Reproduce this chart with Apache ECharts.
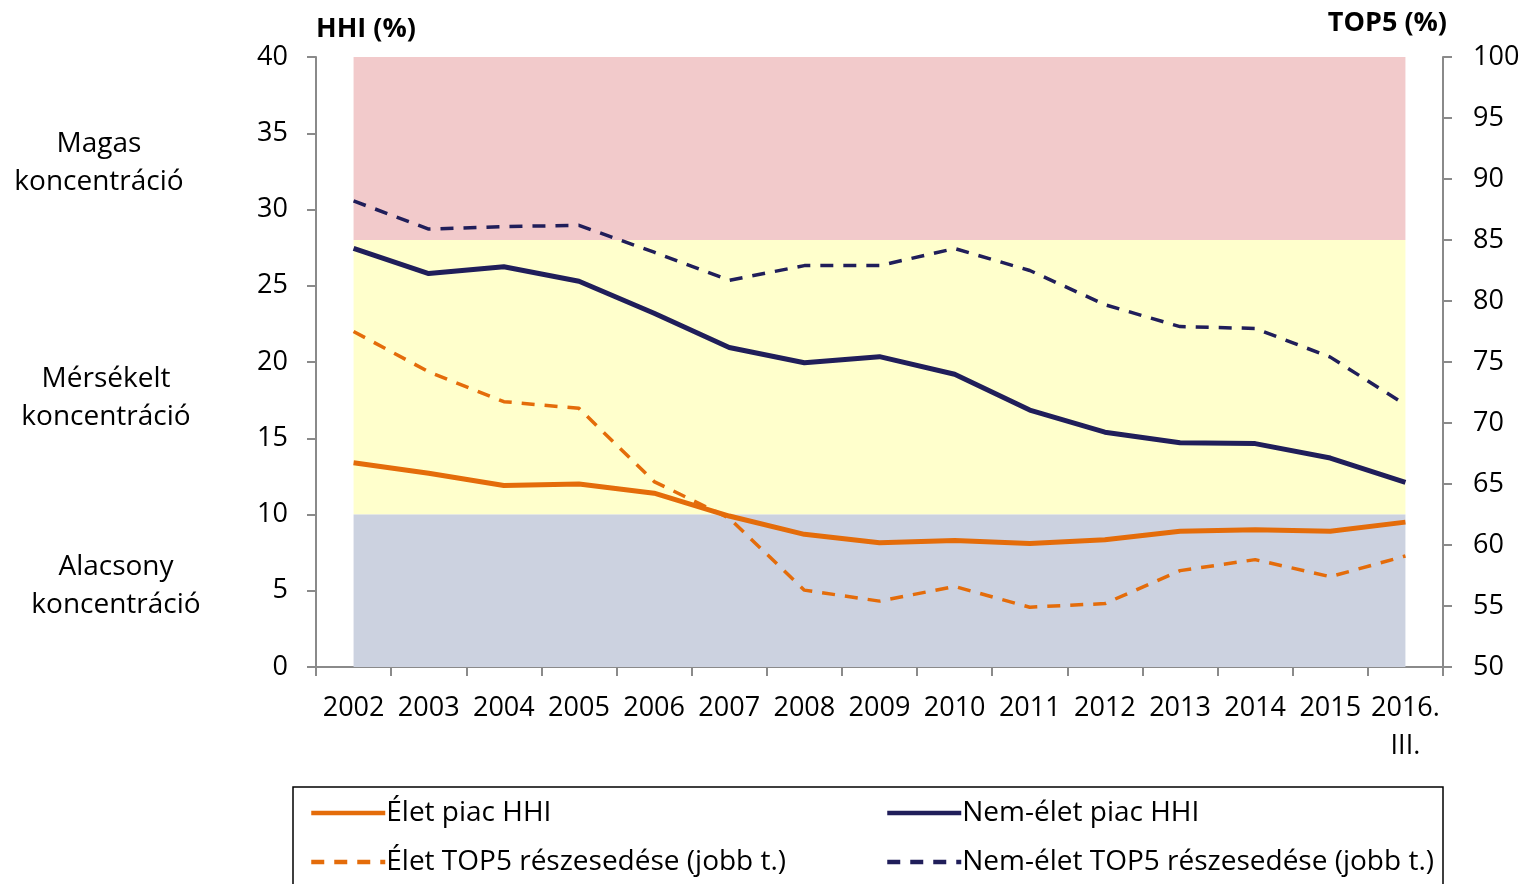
<!DOCTYPE html>
<html>
<head>
<meta charset="utf-8">
<script src="https://cdn.jsdelivr.net/npm/echarts@6/dist/echarts.min.js"></script>
<style>
  html, body { margin: 0; padding: 0; background: #fff; }
  #echart { width: 1525px; height: 884px; }
</style>
</head>
<body>
<div id="echart"></div>
<script>
// --- data ----------------------------------------------------------------
var years = ['2002', '2003', '2004', '2005', '2006', '2007', '2008', '2009',
             '2010', '2011', '2012', '2013', '2014', '2015', '2016.\nIII.'];

var eletHHI = [13.4, 12.7, 11.9, 12.0, 11.4, 9.9, 8.7, 8.15, 8.3, 8.1, 8.35, 8.9, 9.0, 8.9, 9.5];
var nemEletHHI = [27.45, 25.8, 26.25, 25.3, 23.2, 20.95, 19.95, 20.35, 19.2, 16.85, 15.4, 14.7, 14.65, 13.7, 12.1];
var eletTop5 = [77.5, 74.2, 71.75, 71.2, 65.2, 62.2, 56.3, 55.4, 56.6, 54.9, 55.2, 57.9, 58.8, 57.4, 59.1];
var nemEletTop5 = [88.2, 85.9, 86.1, 86.2, 84.0, 81.7, 82.9, 82.9, 84.3, 82.5, 79.7, 77.9, 77.75, 75.4, 71.5];

// concentration bands on the HHI axis
var bandHigh = [28, 40];
var bandMid = [10, 28];
var bandLow = [0, 10];

var ORANGE = '#E46C0A';
var NAVY = '#201E5A';
var FONT = 'Open Sans';

var eChart = echarts.init(document.getElementById('echart'));

var legendBase = {
    top: 794,
    orient: 'vertical',
    itemWidth: 74, itemHeight: 14, itemGap: 21,
    itemStyle: { opacity: 0 },
    lineStyle: { width: 4.5 },
    textStyle: { fontSize: 28, fontFamily: FONT, color: '#000', padding: [0, 0, 0, -4] }
};

var eChartOption = {
    animation: false,
    textStyle: { fontFamily: FONT, color: '#000' },
    grid: { left: 316, right: 82, top: 57, bottom: 217 },
    xAxis: {
        type: 'category',
        data: years,
        boundaryGap: true,
        axisLine: { lineStyle: { color: '#8a8a8a', width: 2 } },
        axisTick: { show: true, length: 9, lineStyle: { color: '#8a8a8a', width: 2 } },
        axisLabel: { fontSize: 27, color: '#000', margin: 22, lineHeight: 38, interval: 0 },
        splitLine: { show: false }
    },
    yAxis: [
        {
            type: 'value',
            min: 0, max: 40, interval: 5,
            axisLine: { show: true, lineStyle: { color: '#8a8a8a', width: 2 } },
            axisTick: { show: true, length: 9, lineStyle: { color: '#8a8a8a', width: 2 } },
            axisLabel: { fontSize: 27, color: '#000', margin: 28 },
            splitLine: { show: false }
        },
        {
            type: 'value',
            min: 50, max: 100, interval: 5,
            axisLine: { show: true, lineStyle: { color: '#8a8a8a', width: 2 } },
            axisTick: { show: true, length: 9, lineStyle: { color: '#8a8a8a', width: 2 } },
            axisLabel: { fontSize: 27, color: '#000', margin: 30 },
            splitLine: { show: false }
        }
    ],
    legend: [
        Object.assign({}, legendBase, {
            left: 304,
            data: ['Élet piac HHI', 'Élet TOP5 részesedése (jobb t.)']
        }),
        Object.assign({}, legendBase, {
            left: 880,
            data: ['Nem-élet piac HHI', 'Nem-élet TOP5 részesedése (jobb t.)']
        })
    ],
    graphic: [
        { type: 'rect', shape: { x: 293, y: 787, width: 1150, height: 120 },
          style: { fill: 'none', stroke: '#000', lineWidth: 1.5 } },
        { type: 'text', left: 316, top: 16,
          style: { text: 'HHI (%)', font: 'bold 27px "' + FONT + '"', fill: '#000' } },
        { type: 'text', right: 78, top: 10,
          style: { text: 'TOP5 (%)', font: 'bold 27px "' + FONT + '"', fill: '#000' } },
        { type: 'text', x: 99, y: 125,
          style: { text: 'Magas\nkoncentráció', font: '28px "' + FONT + '"', fill: '#000',
                   align: 'center', lineHeight: 38 } },
        { type: 'text', x: 106, y: 360,
          style: { text: 'Mérsékelt\nkoncentráció', font: '28px "' + FONT + '"', fill: '#000',
                   align: 'center', lineHeight: 38 } },
        { type: 'text', x: 116, y: 548,
          style: { text: 'Alacsony\nkoncentráció', font: '28px "' + FONT + '"', fill: '#000',
                   align: 'center', lineHeight: 38 } }
    ],
    series: [
        {
            name: 'Élet piac HHI',
            type: 'line',
            yAxisIndex: 0,
            data: eletHHI,
            symbol: 'none',
            z: 4,
            color: ORANGE,
            lineStyle: { color: ORANGE, width: 5 },
            markArea: {
                silent: true,
                z: 1,
                data: [
                    [{ xAxis: years[0], yAxis: bandHigh[0], itemStyle: { color: '#F2CACB' } },
                     { xAxis: years[years.length - 1], yAxis: bandHigh[1] }],
                    [{ xAxis: years[0], yAxis: bandMid[0], itemStyle: { color: '#FFFFCC' } },
                     { xAxis: years[years.length - 1], yAxis: bandMid[1] }],
                    [{ xAxis: years[0], yAxis: bandLow[0], itemStyle: { color: '#CCD2E0' } },
                     { xAxis: years[years.length - 1], yAxis: bandLow[1] }]
                ]
            }
        },
        {
            name: 'Nem-élet piac HHI',
            type: 'line',
            yAxisIndex: 0,
            data: nemEletHHI,
            symbol: 'none',
            z: 4,
            color: NAVY,
            lineStyle: { color: NAVY, width: 5 }
        },
        {
            name: 'Élet TOP5 részesedése (jobb t.)',
            type: 'line',
            yAxisIndex: 1,
            data: eletTop5,
            symbol: 'none',
            z: 3,
            color: ORANGE,
            lineStyle: { color: ORANGE, width: 3.5, type: [13, 10] }
        },
        {
            name: 'Nem-élet TOP5 részesedése (jobb t.)',
            type: 'line',
            yAxisIndex: 1,
            data: nemEletTop5,
            symbol: 'none',
            z: 3,
            color: NAVY,
            lineStyle: { color: NAVY, width: 3.5, type: [13, 10] }
        }
    ]
};

eChart.setOption(eChartOption);
</script>
</body>
</html>
